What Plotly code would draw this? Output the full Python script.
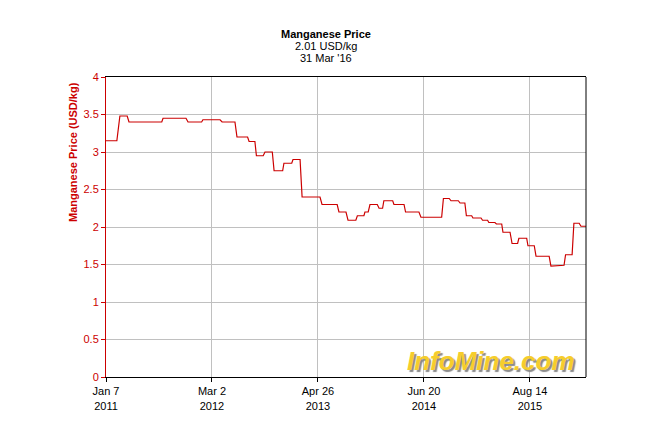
import plotly.graph_objects as go

# Step-wise price history (USD/kg): each change is recorded by the last date at the
# old level and the first date at the new level
dates = [
    "2011-01-07", "2011-02-19", "2011-03-03", "2011-04-01", "2011-04-08", "2011-08-16",
    "2011-08-21", "2011-11-20", "2011-11-28", "2012-01-21", "2012-01-26", "2012-04-03",
    "2012-04-11", "2012-06-01", "2012-06-09", "2012-07-21", "2012-07-27", "2012-08-19",
    "2012-08-25", "2012-09-21", "2012-09-28", "2012-10-27", "2012-11-03", "2012-12-07",
    "2012-12-12", "2013-01-12", "2013-01-17", "2013-02-14", "2013-02-22", "2013-05-04",
    "2013-05-12", "2013-07-11", "2013-07-18", "2013-08-15", "2013-08-23", "2013-09-23",
    "2013-09-29", "2013-10-25", "2013-10-29", "2013-11-11", "2013-11-18", "2013-12-17",
    "2013-12-24", "2014-01-07", "2014-01-12", "2014-02-16", "2014-02-21", "2014-04-02",
    "2014-04-08", "2014-05-31", "2014-06-08", "2014-08-29", "2014-09-05", "2014-09-28",
    "2014-10-05", "2014-11-03", "2014-11-10", "2014-11-29", "2014-12-05", "2014-12-26",
    "2014-12-31", "2015-02-01", "2015-02-07", "2015-02-27", "2015-03-04", "2015-03-28",
    "2015-04-03", "2015-04-24", "2015-04-29", "2015-05-27", "2015-06-04", "2015-06-26",
    "2015-07-01", "2015-08-01", "2015-08-06", "2015-08-31", "2015-09-07", "2015-10-29",
    "2015-11-05", "2015-12-02", "2015-12-07", "2015-12-27", "2016-01-02", "2016-01-28",
    "2016-02-04", "2016-02-25", "2016-03-03", "2016-03-31",
]
prices = [
    3.15, 3.15, 3.48, 3.48, 3.40, 3.40,
    3.45, 3.45, 3.40, 3.40, 3.43, 3.43,
    3.40, 3.40, 3.20, 3.20, 3.14, 3.14,
    2.95, 2.95, 3.00, 3.00, 2.75, 2.75,
    2.85, 2.85, 2.90, 2.90, 2.40, 2.40,
    2.30, 2.30, 2.20, 2.20, 2.09, 2.09,
    2.15, 2.15, 2.20, 2.20, 2.30, 2.30,
    2.25, 2.25, 2.35, 2.35, 2.30, 2.30,
    2.20, 2.20, 2.13, 2.13, 2.38, 2.38,
    2.35, 2.35, 2.32, 2.32, 2.15, 2.15,
    2.12, 2.12, 2.09, 2.09, 2.06, 2.06,
    2.04, 2.04, 1.93, 1.93, 1.78, 1.78,
    1.85, 1.85, 1.75, 1.75, 1.61, 1.61,
    1.48, 1.48, 1.49, 1.49, 1.63, 1.63,
    2.05, 2.05, 2.01, 2.01,
]

x_tick_dates = ["2011-01-07", "2012-03-02", "2013-04-26", "2014-06-20", "2015-08-14"]
x_tick_labels = ["Jan 7<br>2011", "Mar 2<br>2012", "Apr 26<br>2013", "Jun 20<br>2014", "Aug 14<br>2015"]
y_ticks = [0, 0.5, 1, 1.5, 2, 2.5, 3, 3.5, 4]
y_tick_labels = ["0", "0.5", "1", "1.5", "2", "2.5", "3", "3.5", "4"]

title_lines = ["<b>Manganese Price</b>", "2.01 USD/kg", "31 Mar '16"]
y_title = "<b>Manganese Price (USD/kg)</b>"
watermark = "InfoMine.com"

RED = "#cc0000"
FONT = "Liberation Sans, Arial, sans-serif"

fig = go.Figure()
fig.add_trace(go.Scatter(
    x=dates, y=prices, mode="lines",
    line=dict(color=RED, width=1.2),
    hoverinfo="skip", showlegend=False,
))

fig.update_layout(
    width=666, height=423,
    margin=dict(l=106, r=80, t=77, b=46),
    paper_bgcolor="white", plot_bgcolor="white",
    font=dict(family=FONT, size=11, color="black"),
    showlegend=False,
)

fig.update_xaxes(
    type="date",
    range=["2011-01-07", "2016-03-23"],
    tickvals=x_tick_dates, ticktext=x_tick_labels,
    tickfont=dict(family=FONT, size=11, color="black"),
    ticks="outside", ticklen=4, tickcolor="black",
    showline=True, linecolor="black", linewidth=1, mirror=True,
    showgrid=True, gridcolor="#c0c0c0", gridwidth=1,
    zeroline=False,
)
fig.update_yaxes(
    range=[0, 4],
    tickvals=y_ticks, ticktext=y_tick_labels,
    tickfont=dict(family=FONT, size=11, color=RED),
    ticks="outside", ticklen=4, tickcolor=RED,
    showline=True, linecolor=RED, linewidth=1,
    showgrid=True, gridcolor="#c0c0c0", gridwidth=1,
    zeroline=False,
)

# right border of the plot frame
fig.add_shape(type="line", xref="paper", yref="paper", x0=1, x1=1, y0=0, y1=1,
              line=dict(color="black", width=1))

# title lines
title_y = [1.1433, 1.1033, 1.0633]
for txt, yy in zip(title_lines, title_y):
    fig.add_annotation(text=txt, xref="paper", yref="paper", x=0.4583, y=yy,
                       xanchor="center", yanchor="middle", showarrow=False, borderpad=0,
                       font=dict(family=FONT, size=11, color="black"))

# y axis title
fig.add_annotation(text=y_title, xref="paper", yref="paper", x=-0.06875, y=0.75,
                   xanchor="center", yanchor="middle", textangle=-90, showarrow=False,
                   font=dict(family=FONT, size=11, color=RED))

# watermark
fig.add_annotation(text=watermark, xref="paper", yref="paper", x=0.802, y=0.055,
                   xanchor="center", yanchor="middle", showarrow=False,
                   font=dict(family=FONT, size=26, color="#f6cd2c", weight="bold",
                             style="italic", shadow="2px 2px 1px #8a8a8a"))

fig.write_html("out.html")
